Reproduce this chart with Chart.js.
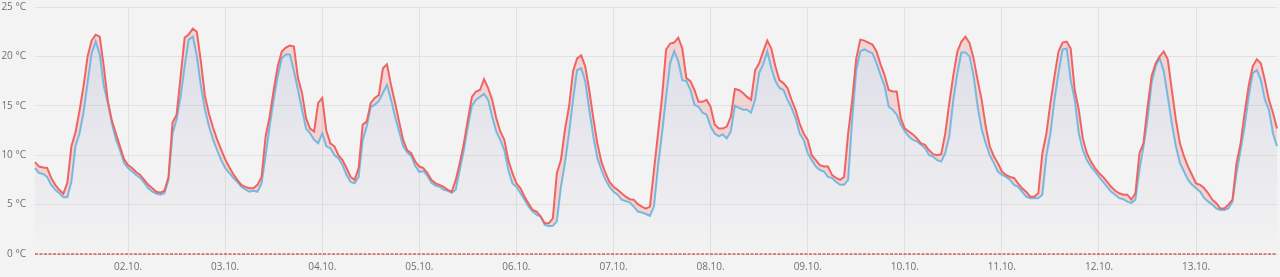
<!DOCTYPE html>
<html>
<head>
<meta charset="utf-8">
<script src="https://cdn.jsdelivr.net/npm/chart.js@4/dist/chart.umd.min.js"></script>
<style>
    html, body { margin: 0; padding: 0; background: #f3f3f3; }
    #wrap { width: 1280px; height: 277px; position: relative; }
</style>
</head>
<body>
<div id="wrap"><canvas id="tempChart"></canvas></div>
<script>
// Temperature chart, hourly values from 01.10. 01:00 to 13.10. 20:00

const dayLabels = ['01.10.', '02.10.', '03.10.', '04.10.', '05.10.', '06.10.', '07.10.',
    '08.10.', '09.10.', '10.10.', '11.10.', '12.10.', '13.10.'];
const firstHour = 1;
const yTicks = [0, 5, 10, 15, 20, 25];
const frostLevel = 0;

// red line (upper)
const seriesRed = [
    9.3, 8.85, 8.75, 8.7, 7.7, 7.0, 6.5, 6.1, 7.2, 10.9, 12.3, 14.5, 17.0, 20.0, 21.6, 22.2, 22.0, 19.0, 15.5, 13.5, 12.2, 10.9, 9.6, 9.0,
    8.7, 8.3, 8.0, 7.5, 7.0, 6.65, 6.3, 6.2, 6.4, 7.8, 13.3, 14.1, 18.0, 21.9, 22.2, 22.8, 22.5, 19.5, 16.0, 14.2, 12.8, 11.6, 10.6, 9.6,
    8.8, 8.1, 7.5, 7.0, 6.8,
    6.65, 6.65, 7.0, 7.8, 11.9, 13.9, 16.6, 19.0, 20.5, 20.9, 21.1, 21.0, 17.8, 16.3, 13.75, 12.7, 12.4, 15.3, 15.8, 12.5,
    11.2, 10.9, 10.0, 9.5, 8.7, 7.8, 7.5, 8.7, 13.1, 13.4, 15.3, 15.8, 16.1, 18.8, 19.2, 17.1, 15.3, 13.4, 11.55, 10.5,
    10.2, 9.35, 8.85, 8.7, 8.2, 7.5, 7.15, 7.0, 6.8, 6.5, 6.3, 7.5, 9.2, 11.2, 13.6, 15.9, 16.45, 16.6, 17.7, 16.8, 15.6, 13.8,
    12.4, 11.55, 9.5, 8.2, 7.15, 6.65, 5.8, 5.1, 4.45, 4.3, 3.8, 3.1, 3.1, 3.6, 8.2, 9.5, 12.6, 14.9, 18.5, 19.8,
    20.1, 19.0, 16.6, 13.75, 11.2, 9.35, 8.2, 7.3, 6.8, 6.5, 6.15, 5.8, 5.55, 5.5, 5.05, 4.8, 4.6, 4.8, 8.5, 12.2,
    15.9, 20.7, 21.3, 21.4, 21.9, 20.8, 17.8, 17.5, 16.6, 15.4, 15.4, 15.6, 14.9, 13.1, 12.7, 12.7, 12.9, 13.9, 16.7, 16.6,
    16.3, 15.9,
    15.6, 18.6, 19.3, 20.5, 21.6, 20.8, 19.0, 17.6, 17.3, 16.8, 15.6, 14.6, 13.2, 12.2, 11.55, 10.0, 9.5, 9.0, 8.85, 8.85,
    8.0, 7.7, 7.5, 7.8, 12.2, 15.6, 19.8, 21.7, 21.6, 21.4, 21.2, 20.5, 19.2, 18.1, 16.6, 16.45, 16.45, 13.75, 12.7, 12.4,
    12.1, 11.7, 11.2, 11.05, 10.5, 10.1, 10.0, 10.1, 12.2, 15.3, 18.1, 20.5, 21.5, 22.0, 21.35, 19.8, 17.6, 15.6, 12.9, 10.9,
    9.9, 9.2, 8.35, 8.0, 7.8, 7.7,
    7.15, 6.65, 6.3, 5.8, 5.8, 6.15, 10.2, 12.2, 15.3, 18.0, 20.5, 21.4, 21.5, 20.8, 16.6, 14.6, 11.7, 10.2, 9.35, 8.7,
    8.2, 7.8, 7.3, 6.8, 6.4, 6.15, 6.0, 6.0, 5.5, 6.15, 10.2, 11.2, 14.9, 18.0, 19.3, 20.0, 20.5, 19.7, 16.6, 13.6,
    11.2, 9.9, 8.85, 8.0, 7.15, 7.0, 6.65, 6.15, 5.5, 5.15, 4.6, 4.6, 5.0, 5.5, 9.2, 11.2, 14.3, 17.0, 19.0, 19.7,
    19.3, 17.6, 15.6, 14.3, 12.7
];

// blue line (lower)
const seriesBlue = [
    8.7, 8.2, 8.1, 7.8, 7.0, 6.5, 6.15, 5.75, 5.75, 7.3, 10.9, 12.2, 14.3, 17.3, 20.3, 21.5, 20.2, 17.0, 15.3, 13.2, 11.6, 10.5, 9.2, 8.7,
    8.35, 8.0, 7.7, 7.2, 6.65, 6.3, 6.1, 6.0, 6.15, 7.5, 12.2, 13.6, 15.9, 19.0, 21.7, 22.0, 20.0, 17.0, 14.6, 12.9, 11.6, 10.5, 9.5, 8.7,
    8.2, 7.7, 7.3, 6.8, 6.55,
    6.3, 6.4, 6.3, 7.15, 9.9, 12.9, 15.6, 18.0, 19.8, 20.2, 20.2, 18.5, 16.6, 14.6, 12.7, 12.2, 11.55, 11.2, 12.2, 10.9,
    10.7, 10.0, 9.7, 9.0, 8.0, 7.3, 7.15, 7.8, 11.5, 12.9, 14.9, 15.1, 15.5, 16.3, 17.1, 15.6, 13.9, 12.4, 10.9, 10.3,
    9.9, 8.9, 8.3, 8.4, 7.9, 7.2, 6.9, 6.8, 6.5, 6.4, 6.2, 6.5, 8.5, 10.5, 12.9, 15.0, 15.6, 15.9, 16.2, 15.6, 13.9, 12.4,
    11.55, 10.5, 8.5, 7.15, 6.8, 6.15, 5.5, 4.8, 4.3, 3.95, 3.8, 2.95, 2.8, 2.85, 3.3, 6.8, 9.2, 12.2, 15.6, 18.6,
    18.8, 17.5, 14.6, 11.9, 9.7, 8.5, 7.5, 6.8, 6.3, 6.0, 5.5, 5.35, 5.2, 4.8, 4.3, 4.2, 4.05, 3.85, 4.8, 8.85,
    12.2, 15.9, 19.3, 20.5, 19.5, 17.6, 17.5, 16.6, 15.1, 14.9, 14.3, 14.1, 12.9, 12.2, 11.9, 12.1, 11.7, 12.4, 15.0, 14.8,
    14.6, 14.6,
    14.3, 15.6, 18.3, 19.2, 20.5, 18.8, 17.5, 16.8, 16.6, 15.6, 14.8, 13.75, 12.2, 11.55, 10.2, 9.5, 8.85, 8.5, 8.35, 7.8,
    7.7, 7.3, 7.0, 7.0, 7.5, 13.6, 18.6, 20.5, 20.7, 20.5, 20.3, 19.3, 18.1, 17.0, 14.9, 14.6, 14.1, 13.1, 12.4, 11.9,
    11.55, 11.4, 11.05, 10.7, 10.0, 9.85, 9.5, 9.35, 10.2, 11.9, 15.6, 18.3, 20.4, 20.4, 20.0, 18.0, 14.9, 12.6, 11.2, 10.0,
    9.2, 8.35, 8.0, 7.8, 7.5, 7.0,
    6.8, 6.3, 5.8, 5.65, 5.65, 5.65, 6.0, 9.9, 12.2, 15.6, 18.3, 20.7, 20.8, 17.6, 15.6, 12.2, 10.5, 9.5, 8.85, 8.35,
    7.8, 7.3, 6.8, 6.3, 6.0, 5.65, 5.55, 5.3, 5.15, 5.5, 8.5, 10.9, 13.6, 17.3, 19.0, 19.8, 18.5, 15.9, 13.2, 10.9,
    9.2, 8.35, 7.5, 7.0, 6.65, 6.3, 5.65, 5.3, 5.0, 4.6, 4.45, 4.45, 4.6, 5.3, 8.2, 10.5, 12.9, 15.9, 18.3, 18.6,
    17.6, 15.6, 14.6, 12.2, 10.9
];

// hourly category labels, e.g. "02.10. 13:00"
const hourLabels = seriesRed.map((_, i) => {
    const h = firstHour + i;
    const day = dayLabels[Math.floor(h / 24)];
    return day + ' ' + String(h % 24).padStart(2, '0') + ':00';
});

function isMidnight(index) {
    return (firstHour + index) % 24 === 0;
}

const ctx = document.getElementById('tempChart').getContext('2d');
new Chart(ctx, {
    type: 'line',
    data: {
        labels: hourLabels,
        datasets: [
            {
                label: 'Frost',
                data: [
                    { x: hourLabels[0], y: frostLevel },
                    { x: hourLabels[hourLabels.length - 1], y: frostLevel }
                ],
                borderColor: 'rgba(205, 80, 80, 0.9)',
                borderWidth: 1.5,
                borderDash: [3, 1.5],
                pointRadius: 0,
                clip: false,
                fill: false
            },
            {
                label: 'Temperatur',
                data: seriesRed,
                borderColor: '#ee6463',
                borderWidth: 2,
                pointRadius: 0,
                tension: 0,
                fill: { target: 2 },
                backgroundColor: 'rgba(240, 90, 90, 0.2)'
            },
            {
                label: 'Gefühlt',
                data: seriesBlue,
                borderColor: '#6cc3ec',
                borderWidth: 2,
                pointRadius: 0,
                tension: 0,
                fill: 'origin',
                backgroundColor: (c) => {
                    const area = c.chart.chartArea;
                    if (!area) return 'rgba(120, 120, 180, 0.1)';
                    const g = c.chart.ctx.createLinearGradient(0, area.top, 0, area.bottom);
                    g.addColorStop(0, 'rgba(120, 120, 180, 0.2)');
                    g.addColorStop(1, 'rgba(120, 120, 180, 0.0)');
                    return g;
                }
            }
        ]
    },
    options: {
        responsive: true,
        maintainAspectRatio: false,
        animation: false,
        layout: { padding: { top: 7, right: 3, bottom: 0, left: 0 } },
        plugins: {
            legend: { display: false },
            tooltip: { enabled: false }
        },
        scales: {
            x: {
                type: 'category',
                offset: false,
                grid: { color: '#e1e1e1', tickLength: 4, drawTicks: true },
                border: { color: '#dcdcdc' },
                afterBuildTicks: (axis) => {
                    axis.ticks = axis.ticks.filter(t => isMidnight(t.value));
                },
                afterFit: (axis) => { axis.height = 23; },
                ticks: {
                    autoSkip: false,
                    maxRotation: 0,
                    padding: 3,
                    color: '#707070',
                    font: { family: 'Open Sans', size: 10 },
                    callback: function (value) {
                        return dayLabels[Math.floor((firstHour + value) / 24)];
                    }
                }
            },
            y: {
                min: yTicks[0],
                max: yTicks[yTicks.length - 1],
                // invisible tick marks keep the labels away from the plot
                grid: { color: '#e1e1e1', drawTicks: true, tickLength: 9, tickColor: 'rgba(0,0,0,0)' },
                border: { display: false },
                afterBuildTicks: (axis) => {
                    axis.ticks = yTicks.map(v => ({ value: v }));
                },
                afterFit: (axis) => { axis.width = 35; },
                ticks: {
                    padding: 0,
                    color: '#707070',
                    font: { family: 'Open Sans', size: 10 },
                    callback: (v) => v + ' °C'
                }
            }
        }
    }
});
</script>
</body>
</html>
